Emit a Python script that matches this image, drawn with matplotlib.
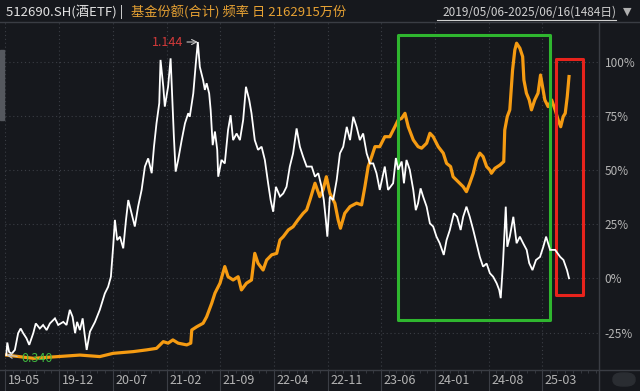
import matplotlib
matplotlib.use('Agg')
import matplotlib.pyplot as plt
import matplotlib.dates as mdates
import matplotlib.transforms as mtransforms
from matplotlib.patches import Rectangle, FancyBboxPatch
from matplotlib.lines import Line2D
import pandas as pd

plt.rcParams['font.family'] = ['Noto Sans CJK SC', 'DejaVu Sans']

# ---------------- data ----------------
price_dates = [
    "2019-05-06", "2019-05-10", "2019-05-17", "2019-05-27", "2019-06-09", "2019-06-22", "2019-07-02", "2019-07-12", "2019-07-25", "2019-08-05",
    "2019-08-21", "2019-08-31", "2019-09-16", "2019-09-29", "2019-10-13", "2019-10-26", "2019-11-15", "2019-11-28", "2019-12-18", "2019-12-31",
    "2020-01-13", "2020-01-24", "2020-02-03", "2020-02-11", "2020-02-22", "2020-03-04", "2020-03-13", "2020-03-20", "2020-04-02", "2020-04-22",
    "2020-05-11", "2020-05-31", "2020-06-13", "2020-06-24", "2020-07-03", "2020-07-10", "2020-07-19", "2020-07-30", "2020-08-12", "2020-08-23",
    "2020-09-01", "2020-09-14", "2020-09-27", "2020-10-10", "2020-10-24", "2020-11-06", "2020-11-19", "2020-12-03", "2020-12-12", "2020-12-22",
    "2021-01-02", "2021-01-07", "2021-01-18", "2021-01-24", "2021-02-06", "2021-02-16", "2021-02-24", "2021-03-01", "2021-03-08", "2021-03-18",
    "2021-04-01", "2021-04-14", "2021-04-27", "2021-05-03", "2021-05-17", "2021-05-27", "2021-06-04", "2021-06-12", "2021-06-25", "2021-07-02",
    "2021-07-09", "2021-07-19", "2021-07-25", "2021-08-02", "2021-08-11", "2021-08-20", "2021-08-24", "2021-09-06", "2021-09-19", "2021-10-02",
    "2021-10-12", "2021-10-22", "2021-11-05", "2021-11-18", "2021-12-01", "2021-12-12", "2021-12-25", "2022-01-03", "2022-01-16", "2022-01-29",
    "2022-02-12", "2022-02-25", "2022-03-10", "2022-03-20", "2022-03-30", "2022-04-10", "2022-04-26", "2022-05-09", "2022-05-22", "2022-06-04",
    "2022-06-17", "2022-07-01", "2022-07-14", "2022-07-27", "2022-08-10", "2022-08-30", "2022-09-12", "2022-09-25", "2022-10-08", "2022-10-17",
    "2022-10-25", "2022-10-31", "2022-11-10", "2022-11-23", "2022-12-07", "2022-12-20", "2023-01-02", "2023-01-16", "2023-01-29", "2023-02-11",
    "2023-02-24", "2023-03-09", "2023-03-22", "2023-04-05", "2023-04-18", "2023-05-01", "2023-05-14", "2023-05-27", "2023-06-16", "2023-06-29",
    "2023-07-19", "2023-07-30", "2023-08-08", "2023-08-22", "2023-08-31", "2023-09-10", "2023-09-23", "2023-10-07", "2023-10-17", "2023-10-26",
    "2023-11-05", "2023-11-15", "2023-11-29", "2023-12-12", "2023-12-25", "2024-01-07", "2024-01-20", "2024-02-05", "2024-02-16", "2024-02-29",
    "2024-03-16", "2024-03-29", "2024-04-12", "2024-04-22", "2024-05-05", "2024-05-18", "2024-06-01", "2024-06-14", "2024-06-27", "2024-07-10",
    "2024-07-24", "2024-08-06", "2024-08-19", "2024-09-02", "2024-09-12", "2024-09-18", "2024-09-27", "2024-10-08", "2024-10-14", "2024-10-24",
    "2024-11-07", "2024-11-20", "2024-12-03", "2024-12-16", "2024-12-30", "2025-01-09", "2025-01-22", "2025-02-05", "2025-02-21", "2025-03-06",
    "2025-03-17", "2025-04-02", "2025-04-22", "2025-05-12", "2025-05-25", "2025-06-08", "2025-06-16",
]
price_values = [
    0.340, 0.372, 0.348, 0.343, 0.353, 0.396, 0.408, 0.396, 0.383, 0.366,
    0.396, 0.421, 0.408, 0.417, 0.404, 0.421, 0.434, 0.417, 0.425, 0.417,
    0.456, 0.438, 0.396, 0.425, 0.404, 0.434, 0.387, 0.353, 0.400, 0.425,
    0.456, 0.498, 0.515, 0.541, 0.618, 0.687, 0.635, 0.644, 0.614, 0.687,
    0.738, 0.704, 0.670, 0.721, 0.764, 0.824, 0.845, 0.807, 0.875, 0.935,
    0.987, 1.098, 1.029, 0.978, 1.029, 1.102, 0.978, 0.901, 0.811, 0.841,
    0.892, 0.935, 0.961, 0.952, 1.012, 1.089, 1.144, 1.080, 1.046, 1.021,
    1.038, 1.012, 0.969, 0.879, 0.914, 0.867, 0.798, 0.841, 0.832, 0.918,
    0.956, 0.892, 0.909, 0.892, 0.944, 1.029, 0.995, 0.961, 0.892, 0.867,
    0.875, 0.841, 0.781, 0.738, 0.708, 0.772, 0.747, 0.755, 0.772, 0.824,
    0.858, 0.922, 0.875, 0.849, 0.824, 0.824, 0.798, 0.807, 0.772, 0.738,
    0.687, 0.644, 0.747, 0.738, 0.789, 0.858, 0.875, 0.926, 0.892, 0.952,
    0.926, 0.892, 0.909, 0.858, 0.832, 0.832, 0.807, 0.764, 0.824, 0.764,
    0.781, 0.846, 0.816, 0.837, 0.781, 0.841, 0.816, 0.764, 0.712, 0.730,
    0.768, 0.747, 0.721, 0.678, 0.670, 0.644, 0.627, 0.597, 0.635, 0.661,
    0.704, 0.695, 0.661, 0.695, 0.721, 0.695, 0.661, 0.627, 0.592, 0.567,
    0.575, 0.550, 0.541, 0.524, 0.507, 0.486, 0.576, 0.721, 0.618, 0.644,
    0.695, 0.627, 0.644, 0.627, 0.610, 0.576, 0.558, 0.584, 0.592, 0.618,
    0.644, 0.610, 0.610, 0.592, 0.584, 0.558, 0.537,
]

share_dates = [
    "2019-05-06", "2019-08-21", "2020-02-22", "2020-05-11", "2020-07-03", "2020-09-21", "2020-11-13", "2020-12-22", "2021-01-18", "2021-02-06",
    "2021-02-25", "2021-03-18", "2021-04-21", "2021-05-07", "2021-05-11", "2021-05-31", "2021-06-25", "2021-07-09", "2021-07-29", "2021-08-11",
    "2021-08-31", "2021-09-19", "2021-10-02", "2021-10-22", "2021-11-11", "2021-11-24", "2021-12-14", "2022-01-03", "2022-01-16", "2022-01-29",
    "2022-02-18", "2022-03-04", "2022-03-24", "2022-04-13", "2022-04-26", "2022-05-09", "2022-05-29", "2022-06-17", "2022-07-06", "2022-07-27",
    "2022-08-10", "2022-08-23", "2022-09-12", "2022-10-01", "2022-10-14", "2022-10-27", "2022-11-10", "2022-11-30", "2022-12-13", "2022-12-22",
    "2023-01-08", "2023-01-29", "2023-02-24", "2023-03-16", "2023-03-29", "2023-04-11", "2023-04-25", "2023-05-08", "2023-05-27", "2023-06-16",
    "2023-07-06", "2023-07-26", "2023-08-08", "2023-08-22", "2023-09-04", "2023-09-17", "2023-10-07", "2023-10-26", "2023-11-09", "2023-11-29",
    "2023-12-12", "2023-12-25", "2024-01-14", "2024-02-03", "2024-02-16", "2024-03-03", "2024-03-13", "2024-04-02", "2024-04-22", "2024-05-05",
    "2024-05-18", "2024-06-01", "2024-06-14", "2024-06-27", "2024-07-10", "2024-07-24", "2024-08-06", "2024-08-12", "2024-08-26", "2024-09-15",
    "2024-09-30", "2024-10-04", "2024-10-14", "2024-10-24", "2024-11-04", "2024-11-13", "2024-11-20", "2024-12-03", "2024-12-14", "2024-12-19",
    "2024-12-29", "2025-01-09", "2025-01-18", "2025-01-31", "2025-02-13", "2025-02-23", "2025-03-03", "2025-03-12", "2025-03-25", "2025-04-08",
    "2025-04-22", "2025-05-04", "2025-05-14", "2025-05-24", "2025-06-01", "2025-06-09", "2025-06-16",
]
share_pct = [
    -35.4, -36.9, -35.4, -36.1, -34.6, -33.8, -33.0, -32.3, -29.2, -29.9,
    -28.4, -29.9, -30.7, -29.9, -23.8, -22.3, -20.7, -17.7, -11.5, -6.8,
    -2.2, 5.5, 0.8, -0.7, 0.8, -5.3, -2.2, -0.7, 11.6, 7.0,
    3.9, 8.5, 10.9, 11.6, 17.8, 19.3, 22.4, 23.9, 27.0, 30.1,
    31.7, 36.3, 44.0, 37.8, 40.9, 47.0, 39.4, 34.7, 27.0, 23.2,
    30.1, 33.2, 34.8, 34.0, 42.4, 51.7, 56.3, 60.9, 60.9, 65.5,
    65.5, 70.1, 73.2, 74.0, 76.3, 70.1, 64.0, 60.9, 60.2, 62.5,
    67.1, 65.5, 60.9, 57.9, 53.2, 51.7, 47.0, 44.7, 42.4, 40.1,
    44.0, 48.6, 54.8, 57.9, 56.3, 51.7, 50.1, 48.6, 50.9, 52.4,
    54.0, 68.6, 74.8, 77.9, 96.3, 105.6, 108.7, 106.4, 102.5, 91.7,
    85.6, 82.5, 77.9, 82.5, 85.6, 94.0, 88.6, 82.5, 79.4, 82.5,
    77.9, 73.2, 70.1, 74.8, 76.3, 84.0, 93.3,
]

pct_ticks = [-25, 0, 25, 50, 75, 100]
tick_months = pd.date_range("2019-05-01", periods=11, freq="7MS")
tick_labels = [d.strftime("%y-%m") for d in tick_months]

title_code = "512690.SH(酒ETF) | "
title_metric = "基金份额(合计) 频率 日 2162915万份"
title_range = "2019/05/06-2025/06/16(1484日)"
max_label, min_label = "1.144", "0.340"

# ---------------- style ----------------
BG = '#16181d'
GRID = '#3b3e45'
TXT = '#b4b4b4'
ORANGE = '#f59b12'
W, H = 640, 391

def fx(px):
    return px / W

def fy(py):
    return 1 - py / H

fig = plt.figure(figsize=(W / 100, H / 100), dpi=100, facecolor=BG)
ax = fig.add_axes([fx(5), fy(370), (599 - 5) / W, (370 - 22) / H])
ax.set_facecolor(BG)
ax2 = ax.twinx()
ax2.patch.set_visible(False)

pdates = pd.to_datetime(price_dates)
sdates = pd.to_datetime(share_dates)

ax.plot(sdates, share_pct, color=ORANGE, lw=2.3, solid_joinstyle='round', zorder=3)
ax2.plot(pdates, price_values, color='white', lw=1.3, solid_joinstyle='miter', zorder=4)

xmin = pd.Timestamp("2019-04-30 20:00")
xmax = pd.Timestamp("2025-10-13")
ax.set_xlim(xmin, xmax)
ax.set_ylim(-42.3, 118.5)
ax2.set_ylim(0.3014, 1.1954)

for a in (ax, ax2):
    for s in a.spines.values():
        s.set_visible(False)

# y axis (right, percent)
ax.yaxis.tick_right()
ax.set_yticks(pct_ticks)
ax.set_yticklabels([f"{v}%" for v in pct_ticks])
ax.tick_params(axis='y', length=0, pad=4, labelcolor=TXT, labelsize=8.5)
ax2.set_yticks([])
ax.yaxis.grid(True, color=GRID, linestyle=(0, (1, 2.5)), lw=0.8)

# x axis
ax.set_xticks(tick_months)
ax.set_xticklabels([])
ax.xaxis.set_minor_locator(mdates.MonthLocator())
ax.tick_params(axis='x', which='major', length=15, width=0.8, color=GRID, direction='out')
ax.tick_params(axis='x', which='minor', length=2.5, width=0.6, color=GRID, direction='out')
ax.xaxis.grid(True, which='major', color=GRID, linestyle=(0, (1, 2.5)), lw=0.8)
ax.set_axisbelow(True)

trans_lab = mtransforms.blended_transform_factory(ax.transData, fig.transFigure)
for d, lab in zip(tick_months, tick_labels):
    t = ax.text(d, fy(381), lab, color=TXT, fontsize=9, ha='left', va='center',
                transform=trans_lab + mtransforms.ScaledTranslation(2.5 / 100, 0, fig.dpi_scale_trans))

# frame lines
fig.add_artist(Line2D([0, 1], [fy(22), fy(22)], color='#3a3d44', lw=1))
fig.add_artist(Line2D([0, 1], [fy(370), fy(370)], color='#3a3d44', lw=1))
fig.add_artist(Line2D([fx(599), fx(599)], [0, fy(22)], color='#3a3d44', lw=1))
fig.add_artist(Rectangle((0, fy(120)), fx(4), fy(50) - fy(120), color='#55585e', transform=fig.transFigure))

# annotation boxes
ax.add_patch(Rectangle((pd.Timestamp("2023-08-07"), -19.2),
                       pd.Timestamp("2025-04-01") - pd.Timestamp("2023-08-07"), 112.5 + 19.2,
                       fill=False, edgecolor='#2fb62f', lw=2.2, joinstyle='round', zorder=5))
ax.add_patch(Rectangle((pd.Timestamp("2025-04-25"), -7.6),
                       pd.Timestamp("2025-08-10") - pd.Timestamp("2025-04-25"), 101.4 + 7.6,
                       fill=False, edgecolor='#e8231c', lw=2.2, joinstyle='round', zorder=5))

# max / min labels
imax = price_values.index(max(price_values))
imin = price_values.index(min(price_values))
ax2.annotate(max_label, xy=(pdates[imax], price_values[imax]), xytext=(-15, 0),
             textcoords='offset pixels', color='#d23a3a', fontsize=9, ha='right', va='center',
             arrowprops=dict(arrowstyle='->', color='#c8c8c8', lw=0.8, shrinkA=1, shrinkB=0), zorder=6)
ax2.annotate(min_label, xy=(pdates[imin], price_values[imin]), xytext=(15, -4),
             textcoords='offset pixels', color='#3fb83f', fontsize=9, ha='left', va='center',
             arrowprops=dict(arrowstyle='->', color='#c8c8c8', lw=0.8, shrinkA=1, shrinkB=0), zorder=6)

# title
fig.text(fx(6), fy(12), title_code, color='#e2e2e2', fontsize=9.5, ha='left', va='center')
fig.text(fx(131), fy(12), title_metric, color='#e6a133', fontsize=9.5, ha='left', va='center')
fig.text(fx(616), fy(12), title_range, color='#d0d0d0', fontsize=8.5, ha='right', va='center')
fig.add_artist(Line2D([fx(437), fx(616)], [fy(19.5), fy(19.5)], color='#d0d0d0', lw=0.8))
fig.text(fx(627), fy(12), '▼', color='#b0b0b0', fontsize=8, ha='center', va='center',
         family=['DejaVu Sans'])

# small pill at bottom right
fig.add_artist(FancyBboxPatch((fx(613), fy(386)), fx(22), fy(373) - fy(386),
                              boxstyle='round,pad=0,rounding_size=0.015', color='#2a2d32',
                              transform=fig.transFigure))

fig.savefig('out.png', dpi=100, facecolor=BG)
